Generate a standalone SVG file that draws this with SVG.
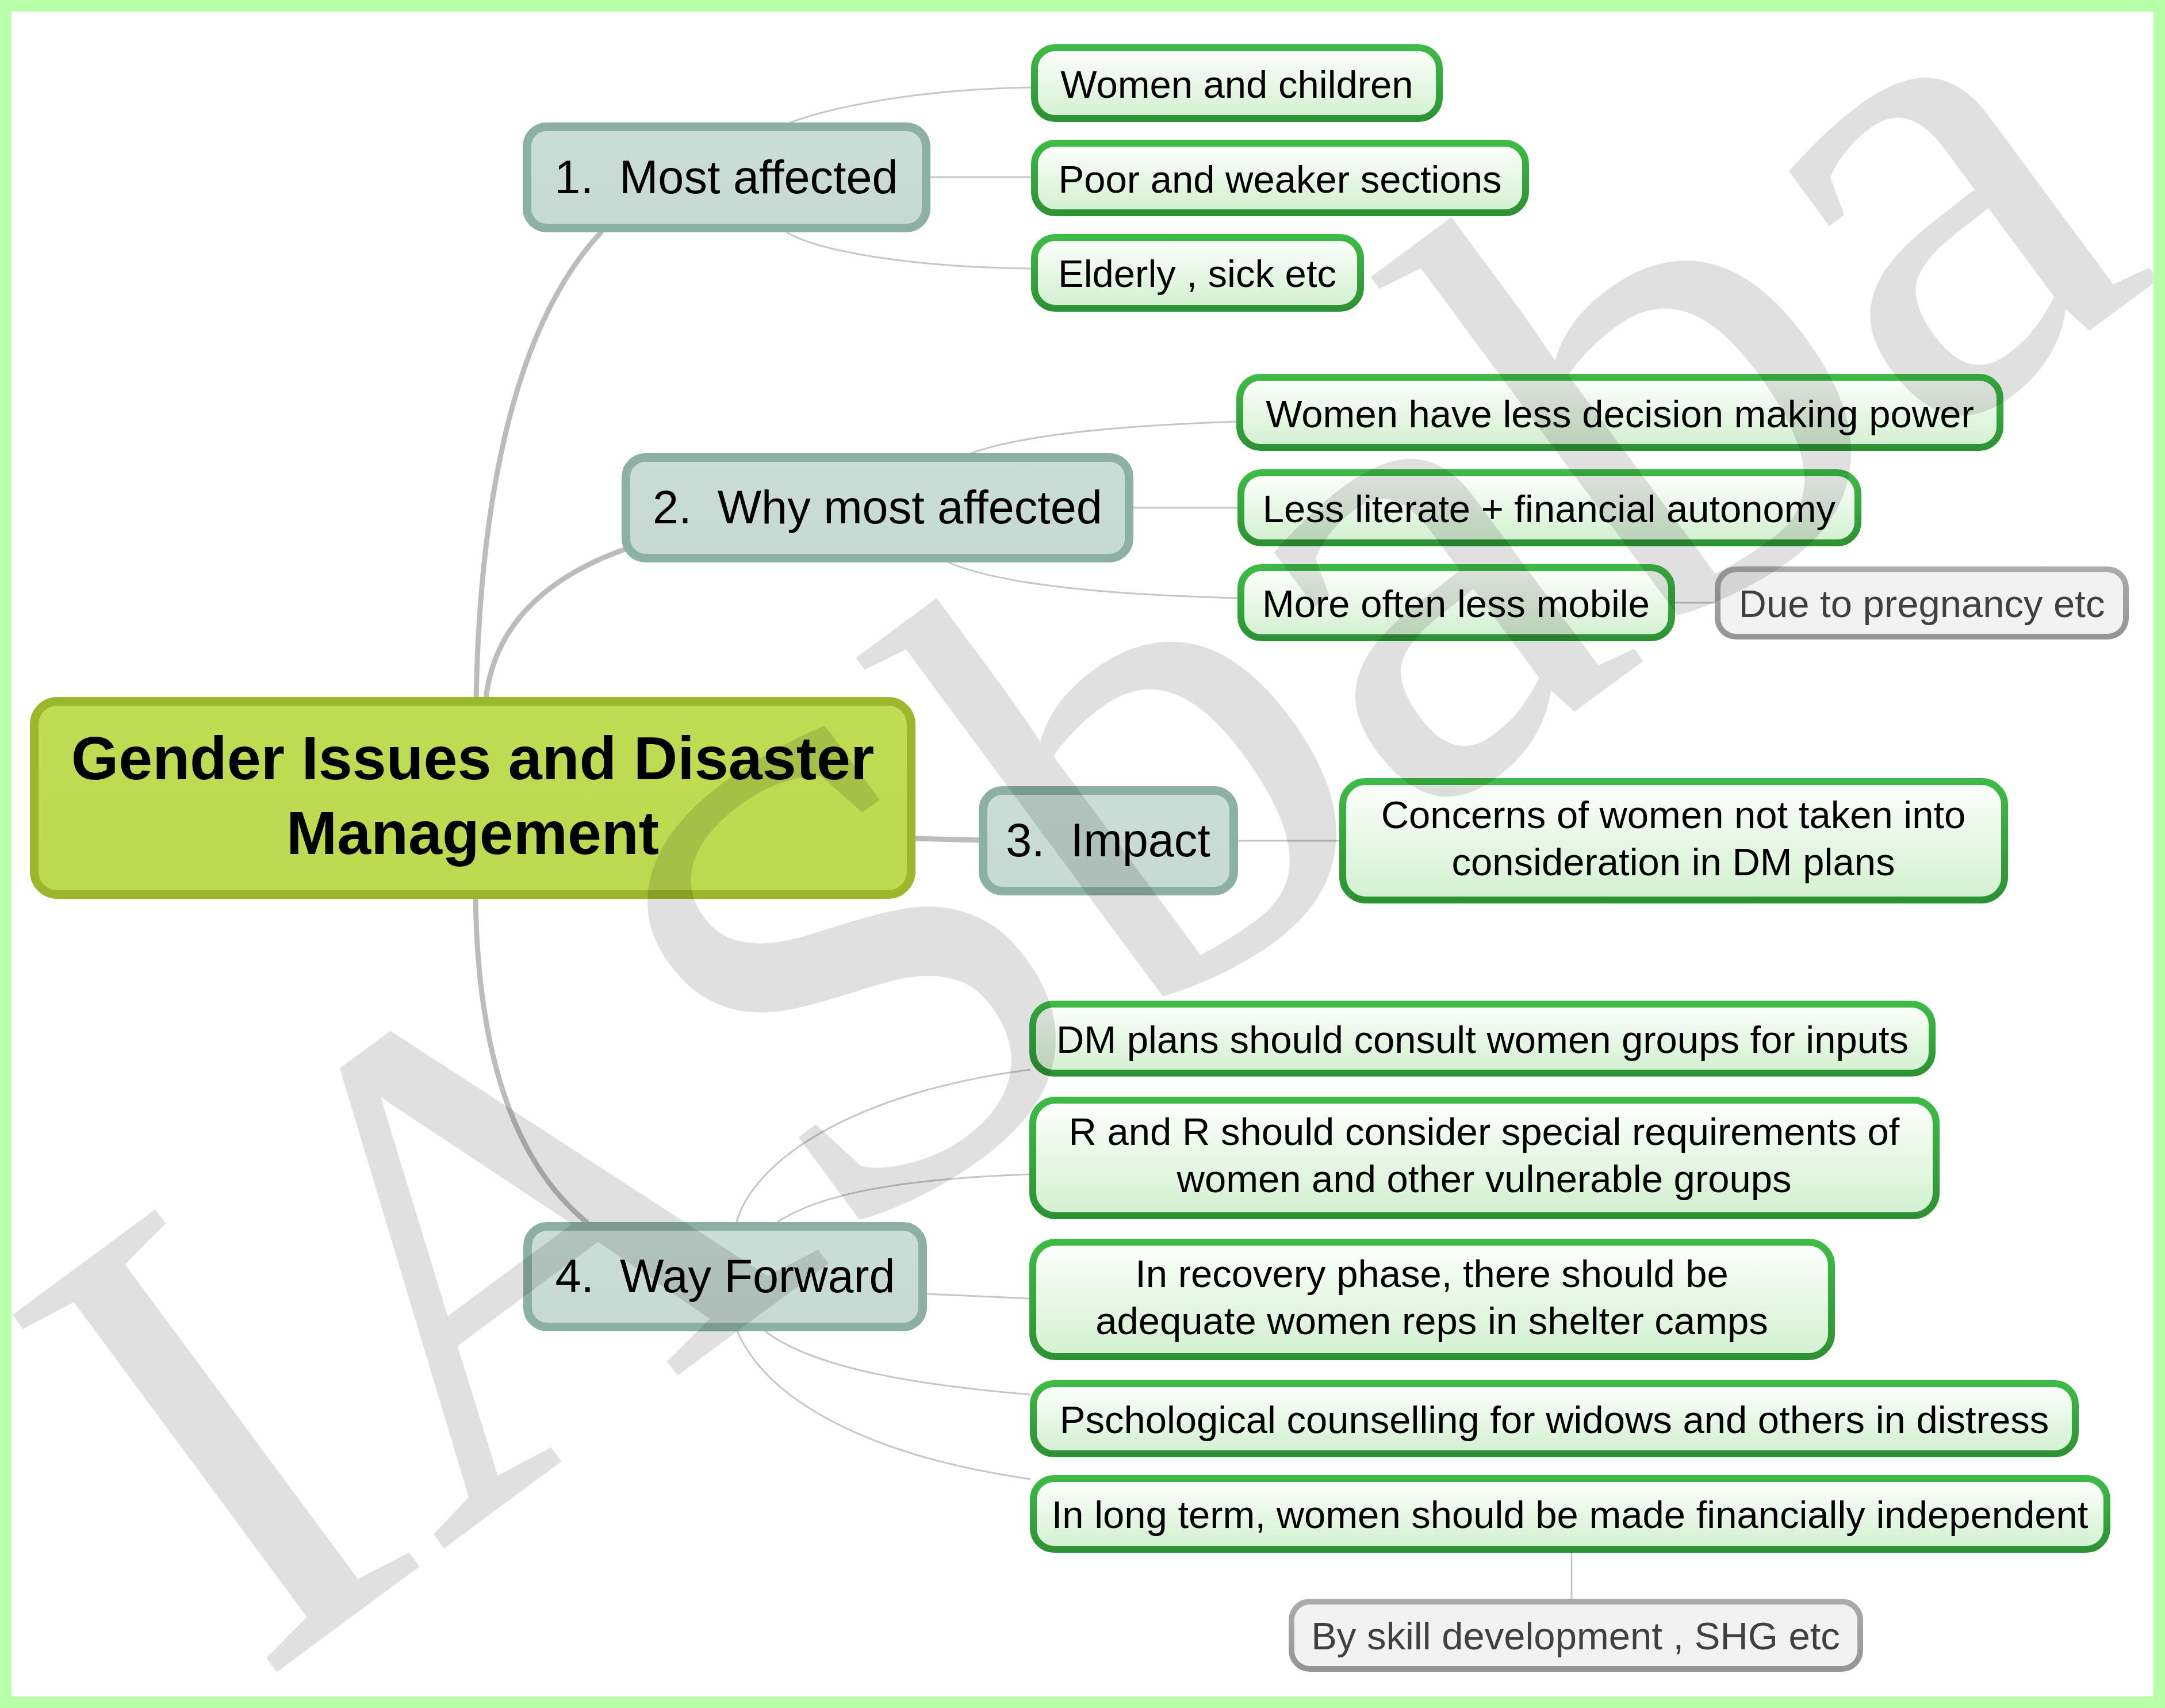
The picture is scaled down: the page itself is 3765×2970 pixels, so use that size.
<svg xmlns="http://www.w3.org/2000/svg" width="3765" height="2970" viewBox="0 0 3765 2970">
<defs>
<linearGradient id="gFill" x1="0" y1="0" x2="0" y2="1"><stop offset="0" stop-color="#fdfffd"/><stop offset="1" stop-color="#d2f0cf"/></linearGradient>
<linearGradient id="gStroke" x1="0" y1="0" x2="0" y2="1"><stop offset="0" stop-color="#3dbb46"/><stop offset="1" stop-color="#2d9234"/></linearGradient>
<linearGradient id="tFill" x1="0" y1="0" x2="0" y2="1"><stop offset="0" stop-color="#cbddd7"/><stop offset="1" stop-color="#c6d9d3"/></linearGradient>
<linearGradient id="rFill" x1="0" y1="0" x2="0" y2="1"><stop offset="0" stop-color="#bfdc52"/><stop offset="1" stop-color="#bcd94f"/></linearGradient>
<linearGradient id="yStroke" x1="0" y1="0" x2="0" y2="1"><stop offset="0" stop-color="#ababab"/><stop offset="1" stop-color="#959595"/></linearGradient>
<clipPath id="inner"><rect x="20" y="20" width="3725" height="2930"/></clipPath>
<style>
.t{font-family:"Liberation Sans",Arial,sans-serif;fill:#000;text-anchor:middle}
.g rect{fill:url(#gFill);stroke:url(#gStroke);stroke-width:12}
.g text{font-size:67px}
.l1 rect{fill:url(#tFill);stroke:#8db0a6;stroke-width:15}
.l1 text{font-size:81px}
.gr rect{fill:#f2f2f2;stroke:url(#yStroke);stroke-width:10}
.gr text{font-size:67px;fill:#404040}
.c1{fill:none;stroke:#bcbcbc;stroke-width:9;stroke-linecap:round}
.c2{fill:none;stroke:#c6c6c6;stroke-width:3}
</style>
</defs>
<rect x="0" y="0" width="3765" height="2970" fill="#b7ffa9"/>
<rect x="20" y="20" width="3725" height="2930" fill="#ffffff"/>

<g id="connectors">
<path class="c1" d="M828,1215 C835,850 900,560 1045,404"/>
<path class="c1" d="M845,1215 C860,1080 960,1000 1087,955"/>
<path class="c1" d="M1590,1458 L1704,1461" stroke-width="10"/>
<path class="c1" d="M827,1560 C830,1800 880,2010 1020,2125"/>
<path class="c2" d="M1374,213 C1450,185 1600,155 1795,152"/>
<path class="c2" d="M1618,308 L1795,308"/>
<path class="c2" d="M1368,404 C1430,440 1600,465 1795,467"/>
<path class="c2" d="M1684,790 Q1800,745 2152,733"/>
<path class="c2" d="M1971,883 L2152,883"/>
<path class="c2" d="M1643,975 Q1760,1030 2152,1040"/>
<path class="c2" d="M2913,1048 L2984,1048"/>
<path class="c2" d="M2153,1462 L2331,1462"/>
<path class="c2" d="M1281,2125 C1310,2020 1480,1900 1792,1860"/>
<path class="c2" d="M1352,2125 C1420,2080 1550,2050 1792,2042"/>
<path class="c2" d="M1612,2250 L1792,2258"/>
<path class="c2" d="M1327,2312 C1400,2370 1550,2405 1792,2425"/>
<path class="c2" d="M1281,2312 C1330,2430 1500,2530 1792,2572"/>
<path class="c2" d="M2733,2700 L2733,2782"/>
</g>

<g id="root">
<rect x="59.5" y="1219.5" width="1525" height="336" rx="40" fill="url(#rFill)" stroke="#9cb72b" stroke-width="15"/>
<text class="t" x="822" y="1355" font-size="106" font-weight="bold">Gender Issues and Disaster</text>
<text class="t" x="822" y="1485" font-size="106" font-weight="bold">Management</text>
</g>

<g id="n1" class="l1"><rect x="916.5" y="220.5" width="694" height="176" rx="34"/><text class="t" x="1263" y="336">1.&#160; Most affected</text></g>
<g id="n2" class="l1"><rect x="1088.5" y="795.5" width="875" height="175" rx="34"/><text class="t" x="1526" y="910">2.&#160; Why most affected</text></g>
<g id="n3" class="l1"><rect x="1709.5" y="1374.5" width="436" height="175" rx="34"/><text class="t" x="1927" y="1489">3.&#160; Impact</text></g>
<g id="n4" class="l1"><rect x="917.5" y="2132.5" width="687" height="175" rx="34"/><text class="t" x="1261" y="2247">4.&#160; Way Forward</text></g>

<g id="n1a" class="g"><rect x="1799" y="83" width="704" height="123" rx="36"/><text class="t" x="2151" y="170">Women and children</text></g>
<g id="n1b" class="g"><rect x="1799" y="249" width="854" height="121" rx="36"/><text class="t" x="2226" y="335">Poor and weaker sections</text></g>
<g id="n1c" class="g"><rect x="1799" y="413" width="567" height="123" rx="36"/><text class="t" x="2082" y="499">Elderly , sick etc</text></g>

<g id="n2a" class="g"><rect x="2156" y="656" width="1322" height="122" rx="36"/><text class="t" x="2817" y="743">Women have less decision making power</text></g>
<g id="n2b" class="g"><rect x="2158" y="822" width="1073" height="122" rx="36"/><text class="t" x="2694" y="908">Less literate + financial autonomy</text></g>
<g id="n2c" class="g"><rect x="2158" y="987" width="749" height="122" rx="36"/><text class="t" x="2532" y="1073">More often less mobile</text></g>
<g id="n2c1" class="gr"><rect x="2987" y="990" width="710" height="117" rx="32"/><text class="t" x="3342" y="1073">Due to pregnancy etc</text></g>

<g id="n3a" class="g"><rect x="2335" y="1359" width="1151" height="206" rx="40"/><text class="t" x="2910" y="1440">Concerns of women not taken into</text><text class="t" x="2910" y="1522">consideration in DM plans</text></g>

<g id="n4a" class="g"><rect x="1796" y="1746" width="1564" height="120" rx="36"/><text class="t" x="2578" y="1831">DM plans should consult women groups for inputs</text></g>
<g id="n4b" class="g"><rect x="1796" y="1913" width="1571" height="201" rx="40"/><text class="t" x="2581" y="1991">R and R should consider special requirements of</text><text class="t" x="2581" y="2073">women and other vulnerable groups</text></g>
<g id="n4c" class="g"><rect x="1796" y="2160" width="1389" height="199" rx="40"/><text class="t" x="2490" y="2238">In recovery phase, there should be</text><text class="t" x="2490" y="2320">adequate women reps in shelter camps</text></g>
<g id="n4d" class="g"><rect x="1797" y="2406" width="1812" height="122" rx="36"/><text class="t" x="2703" y="2492">Pschological counselling for widows and others in distress</text></g>
<g id="n4e" class="g"><rect x="1797" y="2571" width="1867" height="123" rx="36"/><text class="t" x="2730" y="2657" font-size="66.5">In long term, women should be made financially independent</text></g>
<g id="n4e1" class="gr"><rect x="2246" y="2785" width="989" height="117" rx="32"/><text class="t" x="2740" y="2868">By skill development , SHG etc</text></g>

<g clip-path="url(#inner)">
<text x="447" y="2933" transform="rotate(-36.5 447 2933)" font-family="Liberation Serif,Times New Roman,serif" font-size="1180" fill="#000" fill-opacity="0.12">IASbaba</text>
</g>
</svg>
